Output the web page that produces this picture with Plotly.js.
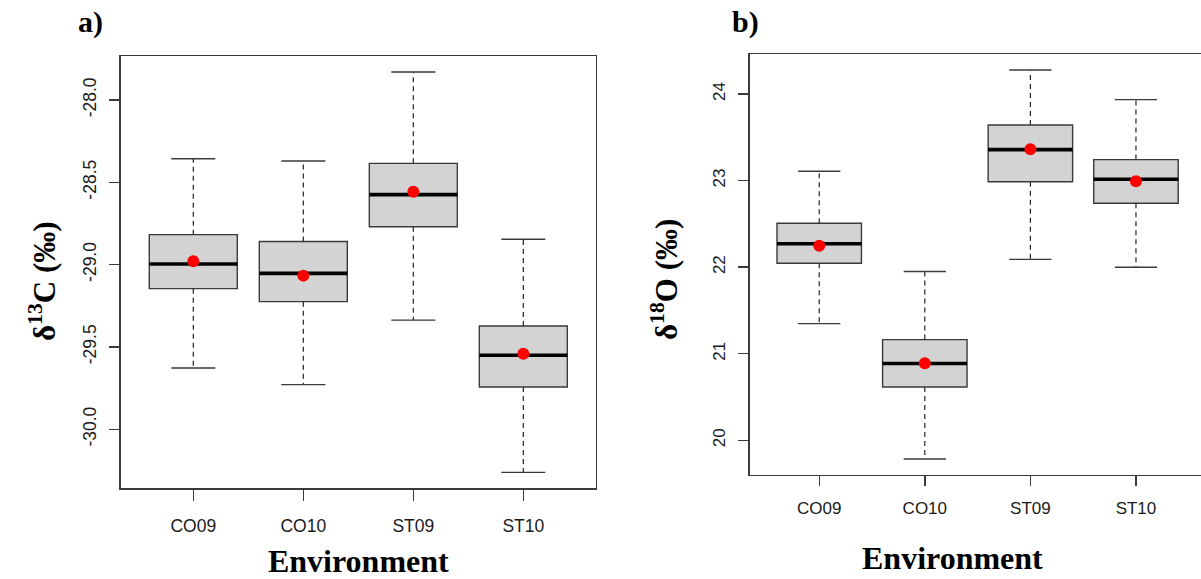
<!DOCTYPE html>
<html>
<head>
<meta charset="utf-8">
<script src="https://cdn.plot.ly/plotly-3.0.1.min.js"></script>
<style>html,body{margin:0;padding:0;background:#fff;}#chart{width:1201px;height:579px;}</style>
</head>
<body>
<div id="chart"></div>
<script>
// ---- data ----
const categories = ['CO09', 'CO10', 'ST09', 'ST10'];
const positions = [1, 2, 3, 4];

const d13C_lower  = [-29.628, -29.729, -29.337, -30.262];
const d13C_q1     = [-29.146, -29.225, -28.770, -29.744];
const d13C_median = [-28.996, -29.053, -28.575, -29.551];
const d13C_q3     = [-28.818, -28.860, -28.385, -29.373];
const d13C_upper  = [-28.357, -28.371, -27.830, -28.846];
const d13C_mean   = [-28.980, -29.067, -28.557, -29.541];
const d13C_ticks  = [-30.0, -29.5, -29.0, -28.5, -28.0];
const d13C_tickLabels = ['-30.0', '-29.5', '-29.0', '-28.5', '-28.0'];

const d18O_lower  = [21.348, 19.785, 22.090, 22.000];
const d18O_q1     = [22.046, 20.617, 22.987, 22.738];
const d18O_median = [22.271, 20.887, 23.357, 23.015];
const d18O_q3     = [22.507, 21.164, 23.642, 23.242];
const d18O_upper  = [23.107, 21.950, 24.277, 23.935];
const d18O_mean   = [22.248, 20.890, 23.361, 22.992];
const d18O_ticks  = [20, 21, 22, 23, 24];
const d18O_tickLabels = ['20', '21', '22', '23', '24'];

// ---- styles ----
const LINE = '#3a3a3a';
const BOXW = 0.8, CAPW = 0.4;

function panel(xa, ya, lower, q1, med, q3, upper, mean) {
  const traces = [];
  traces.push({
    type: 'box', xaxis: xa, yaxis: ya, x: positions,
    q1: q1, median: med, q3: q3, lowerfence: q1, upperfence: q3,
    width: BOXW, fillcolor: '#d3d3d3', line: {color: LINE, width: 1.4},
    boxpoints: false, whiskerwidth: 0, hoverinfo: 'skip', showlegend: false
  });
  const wx = [], wy = [];
  positions.forEach((p, i) => {
    wx.push(p, p, null, p, p, null);
    wy.push(q3[i], upper[i], null, q1[i], lower[i], null);
  });
  traces.push({type: 'scatter', mode: 'lines', xaxis: xa, yaxis: ya, x: wx, y: wy,
    line: {color: '#222', width: 1.2, dash: '5px,4px'}, hoverinfo: 'skip', showlegend: false});
  const cx = [], cy = [];
  positions.forEach((p, i) => {
    cx.push(p - CAPW / 2, p + CAPW / 2, null, p - CAPW / 2, p + CAPW / 2, null);
    cy.push(upper[i], upper[i], null, lower[i], lower[i], null);
  });
  traces.push({type: 'scatter', mode: 'lines', xaxis: xa, yaxis: ya, x: cx, y: cy,
    line: {color: LINE, width: 1.4}, hoverinfo: 'skip', showlegend: false});
  const mx = [], my = [];
  positions.forEach((p, i) => {
    mx.push(p - BOXW / 2, p + BOXW / 2, null);
    my.push(med[i], med[i], null);
  });
  traces.push({type: 'scatter', mode: 'lines', xaxis: xa, yaxis: ya, x: mx, y: my,
    line: {color: '#000', width: 3.6}, hoverinfo: 'skip', showlegend: false});
  traces.push({type: 'scatter', mode: 'markers', xaxis: xa, yaxis: ya, x: positions, y: mean,
    marker: {color: '#ff0000', size: 12}, hoverinfo: 'skip', showlegend: false});
  return traces;
}

const data = [].concat(
  panel('x', 'y', d13C_lower, d13C_q1, d13C_median, d13C_q3, d13C_upper, d13C_mean),
  panel('x2', 'y2', d18O_lower, d18O_q1, d18O_median, d18O_q3, d18O_upper, d18O_mean)
);

const tickFontL = {family: 'Liberation Sans, Arial, sans-serif', size: 17.5, color: '#1a1a1a'};
const tickFontR = {family: 'Liberation Sans, Arial, sans-serif', size: 17, color: '#1a1a1a'};
const xTitleFont = {family: 'Liberation Serif, Times New Roman, serif', size: 32, color: '#000', weight: 'bold'};
const yTitleFont = {family: 'Liberation Serif, Times New Roman, serif', size: 31, color: '#000', weight: 'bold'};
const panelFont = {family: 'Liberation Serif, Times New Roman, serif', size: 30, color: '#000', weight: 'bold'};

const baseAxis = {showgrid: false, zeroline: false, showline: true, linecolor: LINE, linewidth: 1.4,
  ticks: 'outside', tickcolor: LINE, tickwidth: 1.4, fixedrange: true};

const layout = {
  width: 1201, height: 579,
  margin: {l: 0, r: 0, t: 0, b: 0},
  paper_bgcolor: '#fff', plot_bgcolor: '#fff',
  showlegend: false,
  xaxis: Object.assign({}, baseAxis, {
    domain: [0.1005, 0.4962], range: [0.34, 4.66], anchor: 'y',
    tickvals: positions, ticktext: categories, ticklen: 11, mirror: true,
    tickfont: tickFontL, ticklabelstandoff: 10,
    title: {text: 'Environment', font: xTitleFont, standoff: 15}
  }),
  yaxis: Object.assign({}, baseAxis, {
    domain: [0.15665, 0.9032], range: [-30.359, -27.733], anchor: 'x',
    tickvals: d13C_ticks, ticktext: d13C_tickLabels, ticklen: 10, tickangle: -90, mirror: true,
    tickfont: tickFontL, ticklabelstandoff: 6
  }),
  xaxis2: Object.assign({}, baseAxis, {
    domain: [0.6241, 1], range: [0.34, 4.616], anchor: 'y2',
    tickvals: positions, ticktext: categories, ticklen: 10, mirror: true,
    tickfont: tickFontR, ticklabelstandoff: 8
  }),
  yaxis2: Object.assign({}, baseAxis, {
    domain: [0.18031, 0.90604], range: [19.605, 24.457], anchor: 'x2',
    tickvals: d18O_ticks, ticktext: d18O_tickLabels, ticklen: 10, tickangle: -90, mirror: false,
    tickfont: tickFontR, ticklabelstandoff: 6
  }),
  annotations: [
    {text: 'a)', xref: 'paper', yref: 'paper', x: 90 / 1201, y: 1 - 22 / 579,
     xanchor: 'center', yanchor: 'middle', showarrow: false, font: panelFont},
    {text: 'b)', xref: 'paper', yref: 'paper', x: 745 / 1201, y: 1 - 22 / 579,
     xanchor: 'center', yanchor: 'middle', showarrow: false, font: panelFont},
    {text: 'δ<sup>13</sup>C (‰)', xref: 'paper', yref: 'paper', x: 42 / 1201, y: 1 - 281 / 579,
     xanchor: 'center', yanchor: 'middle', textangle: -90, showarrow: false, font: yTitleFont},
    {text: 'δ<sup>18</sup>O (‰)', xref: 'paper', yref: 'paper', x: 664 / 1201, y: 1 - 280 / 579,
     xanchor: 'center', yanchor: 'middle', textangle: -90, showarrow: false, font: yTitleFont},
    {text: 'Environment', xref: 'paper', yref: 'paper', x: 952 / 1201, y: 1 - 558 / 579,
     xanchor: 'center', yanchor: 'middle', showarrow: false, font: xTitleFont}
  ]
};

Plotly.newPlot('chart', data, layout, {staticPlot: true, displayModeBar: false});
</script>
</body>
</html>
